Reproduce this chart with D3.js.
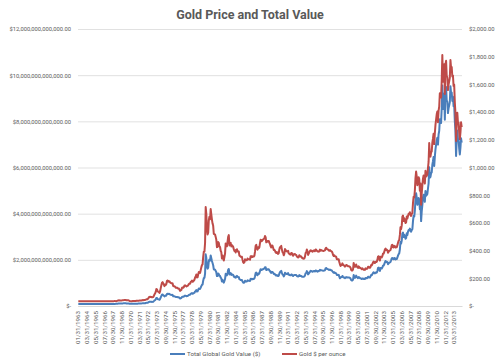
<!DOCTYPE html>
<html lang="en">
<head>
<meta charset="UTF-8">
<title>Gold Price and Total Value</title>
<script src="https://cdn.jsdelivr.net/npm/d3@7/dist/d3.min.js"></script>
<style>
  body { margin: 0; background: #fff; }
  svg { display: block; }
  text { font-family: Roboto, "Liberation Sans", sans-serif; fill: #595959; }
</style>
</head>
<body>
<svg width="500" height="362"></svg>
<script>
// month-end gold price, $ per ounce, Jan 1963 .. Mar 2014 (one row per year)
var goldPrice = [
  35.1,35.1,35.1,35.1,35.1,35.1,35.1,35.1,35.1,35.1,35.1,35.1,
  35.1,35.1,35.1,35.1,35.1,35.1,35.1,35.1,35.1,35.2,35.2,35.1,
  35.1,35.2,35.2,35.1,35.1,35.1,35.1,35.2,35.1,35.1,35.2,35.2,
  35.2,35.2,35.2,35.2,35.2,35.2,35.2,35.2,35.2,35.2,35.2,35.2,
  35.2,35.2,35.2,35.2,35.2,35.2,35.2,35.2,35.2,35.2,35.3,35.4,
  35.2,35.2,37.0,37.9,40.5,41.2,39.5,39.2,39.5,39.2,40.4,41.6,
  42.4,42.6,43.3,43.4,43.5,41.3,41.9,41.0,40.8,40.2,36.6,35.2,
  34.9,35.0,35.1,35.6,35.9,35.4,35.3,35.4,36.2,37.5,37.4,37.4,
  37.9,38.7,38.9,39.0,40.5,40.1,41.0,42.7,42.0,42.5,42.9,43.5,
  45.8,48.3,48.3,49.0,54.6,62.1,65.7,67.0,65.5,64.9,62.9,63.9,
  65.1,74.2,84.4,90.5,102,122.5,120.2,106.7,103,100.1,94.8,106.7,
  129,150,168,172,163,154,143,155,152,159,182,184,
  176,180,178,170,167,164,165,163,144,143,143,139,
  132,131,133,128,127,126,118,109,114,116,131,134,
  132,136,148,149,147,141,143,145,150,159,162,161,
  173,178,184,175,176,184,189,206,212,227,206,208,
  227,246,242,239,258,279,295,301,355,392,393,455,
  715,665,554,517,530,620,644,627,700,661,624,595,
  579,520,519,516,499,479,425,426,462,456,430,426,
  399,389,343,365,347,328,353,379,452,439,431,463,
  500,512,437,450,456,430,439,433,428,410,397,404,
  386,401,410,396,392,393,363,362,355,354,355,333,
  315,311,316,338,330,330,330,343,337,338,338,335,
  359,353,360,354,357,357,363,392,435,441,415,407,
  424,417,425,456,479,468,469,479,478,485,487,505,
  497,460,462,470,469,470,456,448,431,423,437,435,
  420,404,406,399,386,383,390,380,376,382,410,425,
  426,434,409,389,384,366,378,411,405,396,396,393,
  399,379,378,372,371,382,383,370,363,373,374,376,
  369,368,358,353,350,355,367,357,359,358,348,348,
  342,342,343,356,382,386,408,394,369,379,389,398,
  402,397,399,392,396,401,401,395,408,406,399,394,
  394,392,397,407,400,404,401,399,398,398,400,402,
  416,421,412,409,408,400,399,404,398,396,393,384,
  369,361,366,359,358,355,337,337,336,338,318,301,
  289,298,296,308,299,292,293,284,289,296,294,292,
  287,287,286,283,276,261,256,257,265,311,293,283,
  285,300,286,280,275,286,282,275,274,270,266,272,
  266,262,263,261,272,270,268,272,283,283,276,276,
  282,296,294,303,315,321,313,310,319,317,319,333,
  357,359,341,328,356,356,351,360,379,379,390,408,
  414,405,407,403,384,392,398,401,405,421,439,442,
  424,423,434,429,422,431,425,438,456,470,477,513,
  569,556,582,644,653,613,633,623,599,604,646,632,
  650,665,662,677,659,650,665,672,743,789,783,834,
  923,971,934,872,885,930,918,833,884,731,815,870,
  920,943,917,884,976,935,940,950,996,1040,1176,1088,
  1078,1109,1116,1179,1208,1244,1169,1247,1307,1346,1384,1405,
  1327,1410,1439,1536,1536,1505,1628,1813,1620,1722,1746,1531,
  1744,1770,1662,1651,1559,1598,1622,1649,1776,1720,1726,1657,
  1664,1588,1598,1469,1394,1192,1314,1395,1327,1324,1253,1205,
  1251,1326,1292
];

// total global gold value, billions of $, same months
var totalValue = [
  86,86,86,86,86,86,86,86,86,86,86,86,
  87,87,87,87,87,87,87,87,87,88,88,87,
  89,89,89,89,89,89,89,89,89,89,89,89,
  90,90,90,90,90,90,90,90,90,90,90,90,
  92,92,92,92,92,92,92,92,92,92,92,92,
  93,93,98,100,107,109,105,104,105,104,107,110,
  114,115,116,117,117,111,113,110,110,108,98,95,
  95,96,96,97,98,97,96,97,99,102,102,102,
  105,107,108,108,112,111,114,118,116,118,119,120,
  129,136,136,138,153,175,185,188,184,182,177,180,
  186,211,241,258,291,349,343,304,294,285,270,304,
  373,434,486,497,471,445,413,448,439,460,526,532,
  516,527,522,498,489,481,483,478,422,419,419,407,
  392,389,395,380,377,374,350,324,339,345,389,398,
  397,409,445,448,442,424,430,436,452,479,488,485,
  528,543,561,534,537,561,576,628,647,692,628,634,
  701,760,748,739,797,862,912,930,1097,1211,1214,1406,
  2238,2081,1734,1618,1659,1941,2016,1963,2191,2069,1953,1862,
  1766,1585,1582,1572,1522,1461,1297,1300,1407,1388,1309,1300,
  1233,1201,1059,1127,1072,1011,1088,1168,1396,1355,1329,1428,
  1568,1604,1369,1412,1428,1346,1376,1356,1343,1284,1245,1265,
  1228,1278,1304,1261,1248,1251,1155,1152,1129,1125,1129,1059,
  1018,1005,1021,1092,1065,1065,1065,1109,1089,1092,1092,1082,
  1176,1156,1180,1159,1170,1170,1190,1286,1425,1446,1361,1333,
  1412,1387,1415,1515,1595,1557,1560,1595,1592,1612,1619,1682,
  1683,1556,1563,1591,1588,1591,1542,1517,1457,1433,1478,1471,
  1446,1389,1396,1375,1328,1317,1343,1307,1296,1314,1411,1464,
  1497,1522,1434,1365,1347,1285,1325,1442,1420,1391,1391,1380,
  1428,1354,1350,1332,1328,1365,1369,1324,1298,1335,1339,1347,
  1345,1342,1304,1285,1277,1292,1338,1300,1308,1304,1270,1270,
  1270,1270,1274,1320,1417,1432,1513,1463,1370,1405,1444,1478,
  1521,1501,1509,1482,1497,1517,1517,1493,1541,1533,1509,1489,
  1516,1508,1528,1564,1540,1552,1544,1536,1532,1532,1540,1548,
  1628,1648,1612,1600,1595,1567,1563,1579,1559,1551,1538,1502,
  1473,1440,1461,1432,1428,1415,1345,1345,1340,1349,1270,1199,
  1222,1261,1252,1303,1265,1235,1239,1201,1222,1252,1244,1235,
  1237,1237,1233,1220,1190,1125,1103,1108,1142,1340,1263,1220,
  1251,1317,1256,1229,1207,1256,1238,1207,1203,1185,1168,1194,
  1189,1171,1176,1167,1216,1207,1198,1216,1265,1265,1234,1234,
  1283,1347,1338,1379,1433,1461,1424,1411,1451,1442,1451,1515,
  1653,1662,1579,1519,1648,1648,1625,1667,1755,1755,1806,1889,
  1950,1908,1917,1898,1809,1846,1875,1889,1908,1983,2068,2082,
  2031,2026,2079,2055,2021,2064,2036,2098,2184,2251,2285,2457,
  2771,2708,2834,3136,3180,2985,3083,3034,2917,2941,3146,3078,
  3218,3292,3277,3351,3262,3218,3292,3326,3678,3906,3876,4128,
  4643,4884,4698,4386,4452,4678,4618,4190,4447,3677,4099,4376,
  4701,4819,4686,4517,4987,4778,4803,4855,5090,5314,6009,5560,
  5595,5756,5792,6119,6270,6456,6067,6472,6783,6986,7183,7292,
  6993,7431,7584,8095,8095,7931,8580,9555,8537,9075,9201,8068,
  9348,9487,8908,8849,8356,8565,8694,8839,9519,9219,9251,8882,
  9069,8655,8709,8006,7597,6496,7161,7603,7232,7216,6829,6567,
  6855,7266,7080
];

// category labels shown on the x axis (every 14th month)
var tickLabels = [
  "01/31/1963","03/31/1964","05/31/1965","07/31/1966","09/30/1967","11/30/1968",
  "01/31/1970","03/31/1971","05/31/1972","07/31/1973","09/30/1974","11/30/1975",
  "01/31/1977","03/31/1978","05/31/1979","07/31/1980","09/30/1981","11/30/1982",
  "01/31/1984","03/31/1985","05/31/1986","07/31/1987","09/30/1988","11/30/1989",
  "01/31/1991","03/31/1992","05/31/1993","07/31/1994","09/30/1995","11/30/1996",
  "01/31/1998","03/31/1999","05/31/2000","07/31/2001","09/30/2002","11/30/2003",
  "01/31/2005","03/31/2006","05/31/2007","07/31/2008","09/30/2009","11/30/2010",
  "01/31/2012","03/31/2013"
];
var valueTicks = [0, 2000, 4000, 6000, 8000, 10000, 12000]; // billions
var priceTicks = [0, 200, 400, 600, 800, 1000, 1200, 1400, 1600, 1800, 2000];
var seriesNames = ["Total Global Gold Value ($)", "Gold $ per ounce"];
var colors = ["#4a7ebb", "#be4b48"];

// month-end dates, one per data point
var months = goldPrice.map(function(d, i) {
  var y = 1963 + Math.floor(i / 12), m = i % 12 + 1;
  var last = new Date(y, m, 0).getDate();
  return (m < 10 ? "0" : "") + m + "/" + last + "/" + y;
});

var svg = d3.select("svg");
var plot = {left: 78, right: 462, top: 29, bottom: 306};

var x = d3.scaleBand().domain(months).range([plot.left, plot.right]);
var yValue = d3.scaleLinear().domain([0, 12000]).range([plot.bottom, plot.top]);
var yPrice = d3.scaleLinear().domain([0, 2000]).range([plot.bottom, plot.top]);

var money = d3.format(",.2f");

// gridlines
svg.append("g")
  .attr("transform", "translate(" + plot.left + ",0)")
  .call(d3.axisLeft(yValue).tickValues(valueTicks).tickSize(-(plot.right - plot.left)).tickFormat(""))
  .call(function(g) {
    g.select(".domain").remove();
    g.selectAll("line").attr("stroke", "#d9d9d9").attr("stroke-width", 0.8);
  });

// left axis
svg.append("g")
  .attr("transform", "translate(" + plot.left + ",0)")
  .call(d3.axisLeft(yValue).tickValues(valueTicks).tickSize(0).tickPadding(7)
    .tickFormat(function(d) { return d === 0 ? "$-" : "$" + money(d * 1e9); }))
  .call(function(g) {
    g.select(".domain").remove();
    g.selectAll("text").attr("font-size", "5.8px").attr("fill", "#595959");
  });

// right axis
svg.append("g")
  .attr("transform", "translate(" + plot.right + ",0)")
  .call(d3.axisRight(yPrice).tickValues(priceTicks).tickSize(0).tickPadding(7)
    .tickFormat(function(d) { return d === 0 ? "$-" : "$" + money(d); }))
  .call(function(g) {
    g.select(".domain").remove();
    g.selectAll("text").attr("font-size", "5.8px").attr("fill", "#595959");
  });

// bottom axis with rotated month labels
svg.append("g")
  .attr("transform", "translate(0," + plot.bottom + ")")
  .call(d3.axisBottom(x).tickValues(tickLabels).tickSize(0))
  .call(function(g) {
    g.select(".domain").attr("stroke", "#d9d9d9");
    g.selectAll("text")
      .attr("font-size", "6.2px")
      .attr("fill", "#595959")
      .attr("text-anchor", "end")
      .attr("transform", "rotate(-90)")
      .attr("x", -5)
      .attr("y", 0)
      .attr("dy", "0.32em");
  });

var cx = function(i) { return x(months[i]) + x.bandwidth() / 2; };

var valueLine = d3.line().x(function(d, i) { return cx(i); }).y(function(d) { return yValue(d); });
var priceLine = d3.line().x(function(d, i) { return cx(i); }).y(function(d) { return yPrice(d); });

svg.append("path").datum(totalValue)
  .attr("fill", "none").attr("stroke", colors[0]).attr("stroke-width", 2)
  .attr("stroke-linejoin", "round").attr("d", valueLine);

svg.append("path").datum(goldPrice)
  .attr("fill", "none").attr("stroke", colors[1]).attr("stroke-width", 2)
  .attr("stroke-linejoin", "round").attr("d", priceLine);

// title
svg.append("text")
  .attr("x", 250).attr("y", 19)
  .attr("text-anchor", "middle")
  .attr("font-size", "12.5px").attr("font-weight", "bold")
  .text("Gold Price and Total Value");

// legend
var legendX = [170, 282];
var legend = svg.selectAll(".legend").data(seriesNames).enter().append("g")
  .attr("transform", function(d, i) { return "translate(" + legendX[i] + ",354)"; });
legend.append("line")
  .attr("x1", 0).attr("x2", 15).attr("y1", 0).attr("y2", 0)
  .attr("stroke", function(d, i) { return colors[i]; }).attr("stroke-width", 2);
legend.append("text")
  .attr("x", 17).attr("y", 0).attr("dy", "0.32em")
  .attr("font-size", "6.2px")
  .text(function(d) { return d; });
</script>
</body>
</html>
